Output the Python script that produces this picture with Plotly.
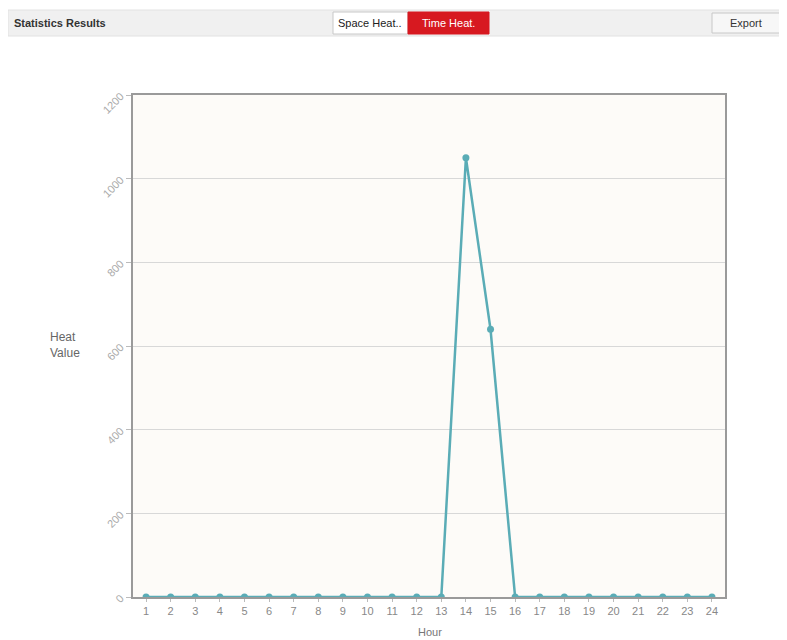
import plotly.graph_objects as go

hours = list(range(1, 25))
heat_values = [0, 0, 0, 0, 0, 0, 0, 0, 0, 0, 0, 0, 0, 1050, 640, 0, 0, 0, 0, 0, 0, 0, 0, 0]
hour_labels = [str(h) for h in hours]
y_ticks = [0, 200, 400, 600, 800, 1000, 1200]

# page body has an 8px margin, so the figure is drawn slightly smaller
OFF = 8
W, H = 787 - OFF, 640 - OFF
L, R, T, B = 133 - OFF, 787 - 725, 95 - OFF, 640 - 597
pw, ph = W - L - R, H - T - B


def px(x):
    # reference pixel -> paper coordinate
    return (x - OFF - L) / pw


def py(y):
    return (H - B - (y - OFF)) / ph


fig = go.Figure()

fig.add_trace(go.Scatter(
    x=hours,
    y=heat_values,
    mode='lines+markers',
    line=dict(color='#5aacb6', width=2.5),
    marker=dict(color='#5aacb6', size=7),
    showlegend=False
))

# header bar
shapes = [
    dict(type='rect', xref='paper', yref='paper', x0=px(8), x1=px(787), y0=py(36), y1=py(10),
         fillcolor='#f0f0f0', line=dict(color='#e2e2e2', width=1), layer='below'),
    dict(type='rect', xref='paper', yref='paper', x0=px(333), x1=px(408), y0=py(34), y1=py(12),
         fillcolor='#ffffff', line=dict(color='#c8c8c8', width=1)),
    dict(type='rect', xref='paper', yref='paper', x0=px(408), x1=px(489), y0=py(34), y1=py(12),
         fillcolor='#d71920', line=dict(color='#d71920', width=1)),
    dict(type='rect', xref='paper', yref='paper', x0=px(712), x1=px(780), y0=py(33), y1=py(13),
         fillcolor='#f7f7f7', line=dict(color='#c8c8c8', width=1)),
]

annotations = [
    dict(text='<b>Statistics Results</b>', xref='paper', yref='paper', x=px(12), y=py(23),
         xanchor='left', yanchor='middle', showarrow=False,
         font=dict(size=11, color='#333333', family='Liberation Sans Narrow, Liberation Sans')),
    dict(text='Space Heat..', xref='paper', yref='paper', x=px(370), y=py(23),
         xanchor='center', yanchor='middle', showarrow=False,
         font=dict(size=11, color='#222222', family='Liberation Sans')),
    dict(text='Time Heat.', xref='paper', yref='paper', x=px(448), y=py(23),
         xanchor='center', yanchor='middle', showarrow=False,
         font=dict(size=11, color='#ffffff', family='Liberation Sans')),
    dict(text='Export', xref='paper', yref='paper', x=px(746), y=py(23),
         xanchor='center', yanchor='middle', showarrow=False,
         font=dict(size=11, color='#333333', family='Liberation Sans')),
    dict(text='Heat<br>Value', xref='paper', yref='paper', x=px(65), y=py(345),
         xanchor='center', yanchor='middle', showarrow=False, align='left',
         font=dict(size=12, color='#666666', family='Liberation Sans')),
    dict(text='Hour', xref='paper', yref='paper', x=px(430), y=py(632),
         xanchor='center', yanchor='middle', showarrow=False,
         font=dict(size=11, color='#777777', family='Liberation Sans')),
]

fig.update_layout(
    width=W, height=H,
    margin=dict(l=L, r=R, t=T, b=B),
    paper_bgcolor='white',
    plot_bgcolor='#fdfbf8',
    font=dict(family='Liberation Sans', color='#999999', size=10),
    shapes=shapes,
    annotations=annotations,
    xaxis=dict(
        range=[0.47, 24.53],
        tickvals=hours,
        ticktext=hour_labels,
        showgrid=False,
        zeroline=False,
        showline=True, linecolor='#9a9a9a', linewidth=2, mirror=True,
        ticks='outside', ticklen=3, tickcolor='#bbbbbb',
        tickfont=dict(size=11, color='#888888'),
    ),
    yaxis=dict(
        range=[0, 1200],
        tickvals=y_ticks,
        showgrid=True, gridcolor='#d8d8d8', gridwidth=1,
        zeroline=False,
        showline=True, linecolor='#9a9a9a', linewidth=2, mirror=True,
        ticks='outside', ticklen=5, tickcolor='#bbbbbb',
        tickangle=-45,
        ticklabelstandoff=3,
        tickfont=dict(size=11, color='#aaaaaa'),
    ),
)

fig.write_html("out.html")
